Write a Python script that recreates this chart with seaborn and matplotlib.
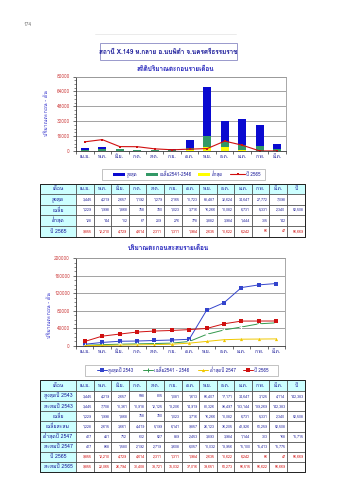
import numpy as np
import pandas as pd
import matplotlib
matplotlib.use("Agg")
import matplotlib.pyplot as plt
import seaborn as sns
from matplotlib import font_manager
from matplotlib.ft2font import FT2Font
from matplotlib.patches import Rectangle
from matplotlib.ticker import MultipleLocator, FixedLocator

# ---------------- data ----------------
months = ["เม.ย.", "พ.ค.", "มิ.ย.", "ก.ค.", "ส.ค.", "ก.ย.", "ต.ค.", "พ.ย.", "ธ.ค.", "ม.ค.", "ก.พ.", "มี.ค."]
max_monthly = [3445, 4219, 2657, 1192, 1279, 2165, 11723, 68487, 32624, 34647, 27772, 7098]
mean_monthly = [1229, 1998, 1868, 758, 780, 1023, 3716, 16266, 10082, 6731, 5331, 2340]
min_monthly = [128, 144, 112, 67, 209, 276, 778, 3882, 3984, 1444, 315, 142]
y2565_monthly = [9855, 12210, 4729, 4614, 2311, 1311, 1984, 2635, 10622, 6242, 66, 47]
mean_annual = "52,508"
y2565_annual = "56,669"

max2543_monthly = [3445, 4219, 2657, 598, 815, 1081, 1613, 66407, 17171, 34647, 3125, 4114]
max2543_annual = "142,383"
max2543_cum = [3445, 7708, 10361, 10918, 12125, 13206, 14919, 81326, 98497, 133144, 139269, 142383]
mean_cum = [1228, 2615, 3661, 4419, 5199, 6141, 9857, 26123, 36205, 42926, 50259, 52508]
min2547_monthly = [417, 451, 712, 612, 527, 889, 2453, 3893, 3984, 1144, 313, 168]
min2547_annual = "15,715"
min2547_cum = [417, 868, 1580, 2192, 2719, 3608, 6057, 10032, 13956, 15100, 15413, 15775]
y2565_cum = [9855, 22065, 26794, 31408, 33721, 35032, 37016, 39651, 50273, 56515, 56622, 56669]

title = "สถานี X.149 ห.กลาย อ.นบพิตำ จ.นครศรีธรรมราช"
sub1 = "สถิติปริมาณตะกอนรายเดือน"
sub2 = "ปริมาณตะกอนสะสมรายเดือน"
ylab = "ปริมาณตะกอน - ตัน"
page_no = "174"

# ---------------- fonts ----------------
sns.set_theme(style="white")
thai = None
for f in font_manager.fontManager.ttflist:
    try:
        if 0x0E01 in FT2Font(f.fname).get_charmap():
            thai = f.name
            break
    except Exception:
        pass
fams = ([thai] if thai else []) + ["DejaVu Sans"]
plt.rcParams["font.family"] = fams

W, H = 339, 480
BLUE_BAR = "#0a0ad0"
GREEN = "#339966"
YELLOW = "#ffff00"
RED = "#d01010"
NAVY = "#1a1a99"
TICKRED = "#d04848"
CYAN = "#ccffff"


def rect(x0, y0, x1, y1):
    return [x0 / W, 1 - y1 / H, (x1 - x0) / W, (y1 - y0) / H]


fig = plt.figure(figsize=(W / 100, H / 100), dpi=100)
fig.patch.set_facecolor("white")

ov = fig.add_axes([0, 0, 1, 1])
ov.set_xlim(0, W)
ov.set_ylim(H, 0)
ov.axis("off")

# page number, header line, title box
ov.text(28, 24, page_no, fontsize=3.5, color="#777777", ha="center", va="center")
ov.plot([95, 236], [33.5, 33.5], color="#e8e8e8", lw=0.6)
ov.add_patch(Rectangle((100, 42.7), 137, 17.3, fill=False, ec="#9999cc", lw=0.7))
ov.text(168.5, 51.5, title, fontsize=4.6, color=NAVY, ha="center", va="center", fontweight="bold")
ov.text(175, 69.3, sub1, fontsize=4.6, color="#2222bb", ha="center", va="center", fontweight="bold")
ov.text(168, 247.7, sub2, fontsize=4.6, color="#2222bb", ha="center", va="center", fontweight="bold")


def style_axes(ax, ymax, ystep):
    ax.set_facecolor("white")
    ax.set_xlim(-0.5, 11.5)
    ax.set_ylim(0, ymax)
    ax.yaxis.set_major_locator(MultipleLocator(ystep))
    ax.yaxis.set_minor_locator(MultipleLocator(ystep / 4))
    ax.grid(axis="y", which="major", color="#8a8a8a", lw=0.55)
    ax.set_axisbelow(True)
    ax.set_xticks(range(12))
    ax.set_xticklabels(months)
    ax.xaxis.set_minor_locator(FixedLocator(np.arange(-0.5, 12, 1)))
    ax.tick_params(axis="x", which="major", length=0, labelsize=3.6, labelcolor=NAVY, pad=2.5)
    ax.tick_params(axis="x", which="minor", length=2, width=0.5, color="#333333", direction="out", bottom=True)
    ax.tick_params(axis="y", which="major", length=2, width=0.5, labelsize=3.4, labelcolor=TICKRED, color="#333333", left=True, pad=2.5)
    ax.tick_params(axis="y", which="minor", length=1.2, width=0.4, color="#333333", left=True)
    ax.set_xlabel("")
    ax.set_ylabel("")
    for s in ["top", "right"]:
        ax.spines[s].set_color("#9a9a9a")
        ax.spines[s].set_linewidth(0.6)
    for s in ["left", "bottom"]:
        ax.spines[s].set_color("#333333")
        ax.spines[s].set_linewidth(0.6)
    ax.spines["top"].set_visible(True)
    ax.spines["right"].set_visible(True)


# ---------------- chart 1 ----------------
df1 = pd.DataFrame({"month": months, "max": max_monthly, "mean": mean_monthly,
                    "min": min_monthly, "y2565": y2565_monthly, "idx": np.arange(12)})
ax1 = fig.add_axes(rect(76, 76.5, 286, 151))
for col, colr in [("max", BLUE_BAR), ("mean", GREEN), ("min", YELLOW)]:
    sns.barplot(data=df1, x="month", y=col, color=colr, width=0.46, saturation=1,
                linewidth=0, ax=ax1, errorbar=None)
sns.lineplot(data=df1, x="idx", y="y2565", ax=ax1, color=RED, marker="s", markersize=2.0,
             markeredgewidth=0, linewidth=0.8)
style_axes(ax1, 80000, 16000)
ov.text(46.7, 113.5, ylab, fontsize=3.8, color="#3333cc", rotation=90, ha="center", va="center")

# legend 1
ov.add_patch(Rectangle((102, 168.5), 163, 11.5, fill=False, ec="#aaaaaa", lw=0.5))
ly = 174.3
ov.add_patch(Rectangle((113, ly - 1.8), 12, 3.6, fc=BLUE_BAR, ec="none"))
ov.text(126.5, ly, "สูงสุด", fontsize=3.3, color=NAVY, va="center")
ov.add_patch(Rectangle((146, ly - 1.8), 12, 3.6, fc=GREEN, ec="none"))
ov.text(159.5, ly, "เฉลี่ย2541-2546", fontsize=3.3, color=NAVY, va="center")
ov.add_patch(Rectangle((198, ly - 1.8), 12, 3.6, fc=YELLOW, ec="none"))
ov.text(211.5, ly, "ต่ำสุด", fontsize=3.3, color=NAVY, va="center")
ov.plot([230, 245], [ly, ly], color=RED, lw=0.8)
ov.plot([237.5], [ly], marker="s", ms=2, color=RED, mew=0)
ov.text(246.5, ly, "ปี 2565", fontsize=3.3, color=NAVY, va="center")

# ---------------- tables ----------------
col_x = [40.0] + list(np.linspace(76, 287, 13)) + [305.0]


def fmt(v):
    return f"{v:,}"


def draw_table(row_y, header, rows):
    nrow = len(rows) + 1
    for r in range(nrow):
        y0, y1 = row_y[r], row_y[r + 1]
        yc = (y0 + y1) / 2
        for c in range(14):
            x0, x1 = col_x[c], col_x[c + 1]
            fc = CYAN if (r == 0 or c == 0) else "white"
            ov.add_patch(Rectangle((x0, y0), x1 - x0, y1 - y0, fc=fc, ec="#3a3a3a", lw=0.45))
            if r == 0:
                ov.text((x0 + x1) / 2, yc, header[c], fontsize=3.6, color=NAVY,
                        ha="center", va="center")
            else:
                label, vals, total, color = rows[r - 1]
                if c == 0:
                    ov.text((x0 + x1) / 2, yc, label, fontsize=3.7, color=NAVY,
                            ha="center", va="center")
                elif c <= 12:
                    v = vals[c - 1]
                    if v is not None:
                        ov.text(x1 - 1.5, yc, fmt(v), fontsize=2.6, color=color,
                                ha="right", va="center")
                else:
                    if total:
                        ov.text(x1 - 1.0, yc, total, fontsize=2.6, color=color,
                                ha="right", va="center")
    ov.add_patch(Rectangle((col_x[0], row_y[0]), col_x[-1] - col_x[0], row_y[-1] - row_y[0],
                           fill=False, ec="#222222", lw=0.7))


header = ["เดือน"] + months + ["ปี"]
NUMB = "#2a2aa0"
rows1 = [
    ("สูงสุด", max_monthly, "", NUMB),
    ("เฉลี่ย", mean_monthly, mean_annual, NUMB),
    ("ต่ำสุด", min_monthly, "", NUMB),
    ("ปี 2565", y2565_monthly, y2565_annual, RED),
]
draw_table([183.5, 193.8, 204.5, 215.2, 225.9, 236.6], header, rows1)

rows2 = [
    ("สูงสุดปี 2543", max2543_monthly, max2543_annual, NUMB),
    ("สะสมปี 2543", max2543_cum, "", NUMB),
    ("เฉลี่ย", mean_monthly, mean_annual, NUMB),
    ("เฉลี่ยสะสม", mean_cum, "", NUMB),
    ("ต่ำสุดปี 2547", min2547_monthly, min2547_annual, NUMB),
    ("สะสมปี 2547", min2547_cum, "", NUMB),
    ("ปี 2565", y2565_monthly, y2565_annual, RED),
    ("สะสมปี 2565", y2565_cum, "", RED),
]
draw_table([380.0] + list(np.linspace(391, 472, 9)), header, rows2)

# ---------------- chart 2 ----------------
df2 = pd.DataFrame({"idx": np.arange(12), "max": max2543_cum, "mean": mean_cum,
                    "min": min2547_cum, "y2565": y2565_cum})
ax2 = fig.add_axes(rect(76, 258.3, 285, 345.8))
BL2, GR2, YL2, RD2 = "#3344cc", "#33994d", "#f0c800", "#d01010"
sns.lineplot(data=df2, x="idx", y="max", ax=ax2, color=BL2, marker="s", markersize=2.3,
             markeredgewidth=0, linewidth=0.7)
sns.lineplot(data=df2, x="idx", y="mean", ax=ax2, color=GR2, marker="+", markersize=2.8,
             markeredgewidth=0.7, linewidth=0.7)
sns.lineplot(data=df2, x="idx", y="min", ax=ax2, color=YL2, marker="^", markersize=2.3,
             markeredgewidth=0, linewidth=0.7)
sns.lineplot(data=df2, x="idx", y="y2565", ax=ax2, color=RD2, marker="s", markersize=2.3,
             markeredgewidth=0, linewidth=0.7)
style_axes(ax2, 200000, 40000)
ov.text(49.3, 315, ylab, fontsize=3.8, color="#3333cc", rotation=90, ha="center", va="center")

# legend 2
ov.add_patch(Rectangle((85, 364.5), 193, 11.5, fill=False, ec="#aaaaaa", lw=0.5))
ly = 370.3
for x0, colr, mk, lab in [(97, BL2, "s", "สูงสุดปี 2543"), (143, GR2, "+", "เฉลี่ย2541 - 2546"),
                          (198, YL2, "^", "ต่ำสุดปี 2547"), (243, RD2, "s", "ปี 2565")]:
    ov.plot([x0, x0 + 10], [ly, ly], color=colr, lw=0.7)
    ov.plot([x0 + 5], [ly], marker=mk, ms=2.3 if mk != "+" else 2.8, color=colr,
            mew=0 if mk != "+" else 0.7)
    ov.text(x0 + 11.5, ly, lab, fontsize=3.3, color=NAVY, va="center")

fig.savefig("out.png", dpi=100, facecolor="white")
